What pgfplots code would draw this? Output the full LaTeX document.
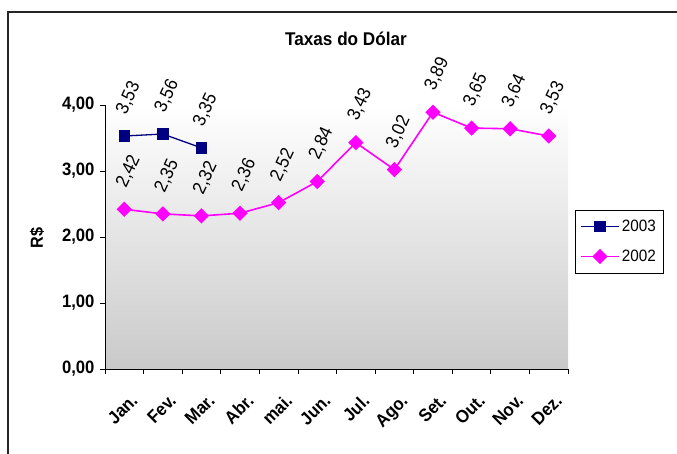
\documentclass[border=0pt]{standalone}
\usepackage{fontspec}
\setmainfont{Liberation Sans}[FakeStretch=0.93]
\usepackage{pgfplots}
\pgfplotsset{compat=1.18}
\definecolor{navy2003}{HTML}{000080}
\definecolor{mag2002}{HTML}{FF00FF}
\begin{document}
\begin{tikzpicture}[x=1bp,y=1bp]
\path[use as bounding box] (0,0) rectangle (677,454);
\draw[line width=2bp, black!85] (8,0) -- (8,442) -- (677,442);
\begin{axis}[
  at={(105bp,85bp)}, anchor=south west,
  scale only axis, width=463bp, height=264bp,
  xmin=-0.5, xmax=11.5, ymin=0, ymax=4,
  axis x line=bottom, axis y line=left,
  axis line style={-, line width=0.8bp, black},
  axis background/.style={top color=white, bottom color=black!21},
  tick align=outside,
  major tick length=5bp, minor tick length=5bp,
  every tick/.style={black, line width=0.8bp},
  ytick={0,1,2,3,4},
  yticklabel style={/pgf/number format/.cd, fixed, fixed zerofill, precision=2, use comma, assume math mode=true, /tikz/.cd, font=\bfseries\fontsize{18}{18}\selectfont, xshift=-2bp},
  xtick={0,...,11},
  xticklabels={Jan.,Fev.,Mar.,Abr.,mai.,Jun.,Jul.,Ago.,Set.,Out.,Nov.,Dez.},
  major x tick style={draw=none},
  minor xtick={-0.5,0.5,...,11.5},
  xticklabel style={rotate=45, anchor=north east, font=\bfseries\fontsize{18}{18}\selectfont, yshift=-14bp, xshift=-6bp},
  ylabel={R\$},
  ylabel style={at={(axis description cs:-0.147,0.496)}, anchor=center, font=\bfseries\fontsize{17.5}{17.5}\selectfont},
  title={Taxas do Dólar},
  title style={at={(axis description cs:0.5205,1.227)}, anchor=center, font=\bfseries\fontsize{18.5}{18.5}\selectfont},
  point meta=explicit symbolic,
  nodes near coords,
  nodes near coords style={yshift=38bp, xshift=4bp, rotate=65, anchor=center, font=\fontsize{18.5}{18.5}\selectfont, text=black, inner sep=0pt},
  clip=false,
  legend style={at={(axis description cs:1.015,0.603)}, anchor=north west, draw=black, line width=0.6bp, font=\fontsize{16.5}{16.5}\selectfont, inner xsep=5bp, inner ysep=8bp, /tikz/row sep=13bp},
  legend cell align=left,
  legend image code/.code={\draw[mark repeat=2,mark phase=2] plot coordinates {(0bp,0bp) (19bp,0bp) (38bp,0bp)};},
]
\addplot[navy2003, line width=1.3bp, mark=square*, mark size=5bp, mark options={solid}] coordinates {
  (0,3.53) [3,53]
  (1,3.56) [3,56]
  (2,3.35) [3,35]
};
\addlegendentry{2003}
\addplot[mag2002, line width=1.6bp, mark=square*, mark size=4.6bp, mark options={solid, rotate=45}] coordinates {
  (0,2.42) [2,42]
  (1,2.35) [2,35]
  (2,2.32) [2,32]
  (3,2.36) [2,36]
  (4,2.52) [2,52]
  (5,2.84) [2,84]
  (6,3.43) [3,43]
  (7,3.02) [3,02]
  (8,3.89) [3,89]
  (9,3.65) [3,65]
  (10,3.64) [3,64]
  (11,3.53) [3,53]
};
\addlegendentry{2002}
\end{axis}
\end{tikzpicture}
\end{document}
